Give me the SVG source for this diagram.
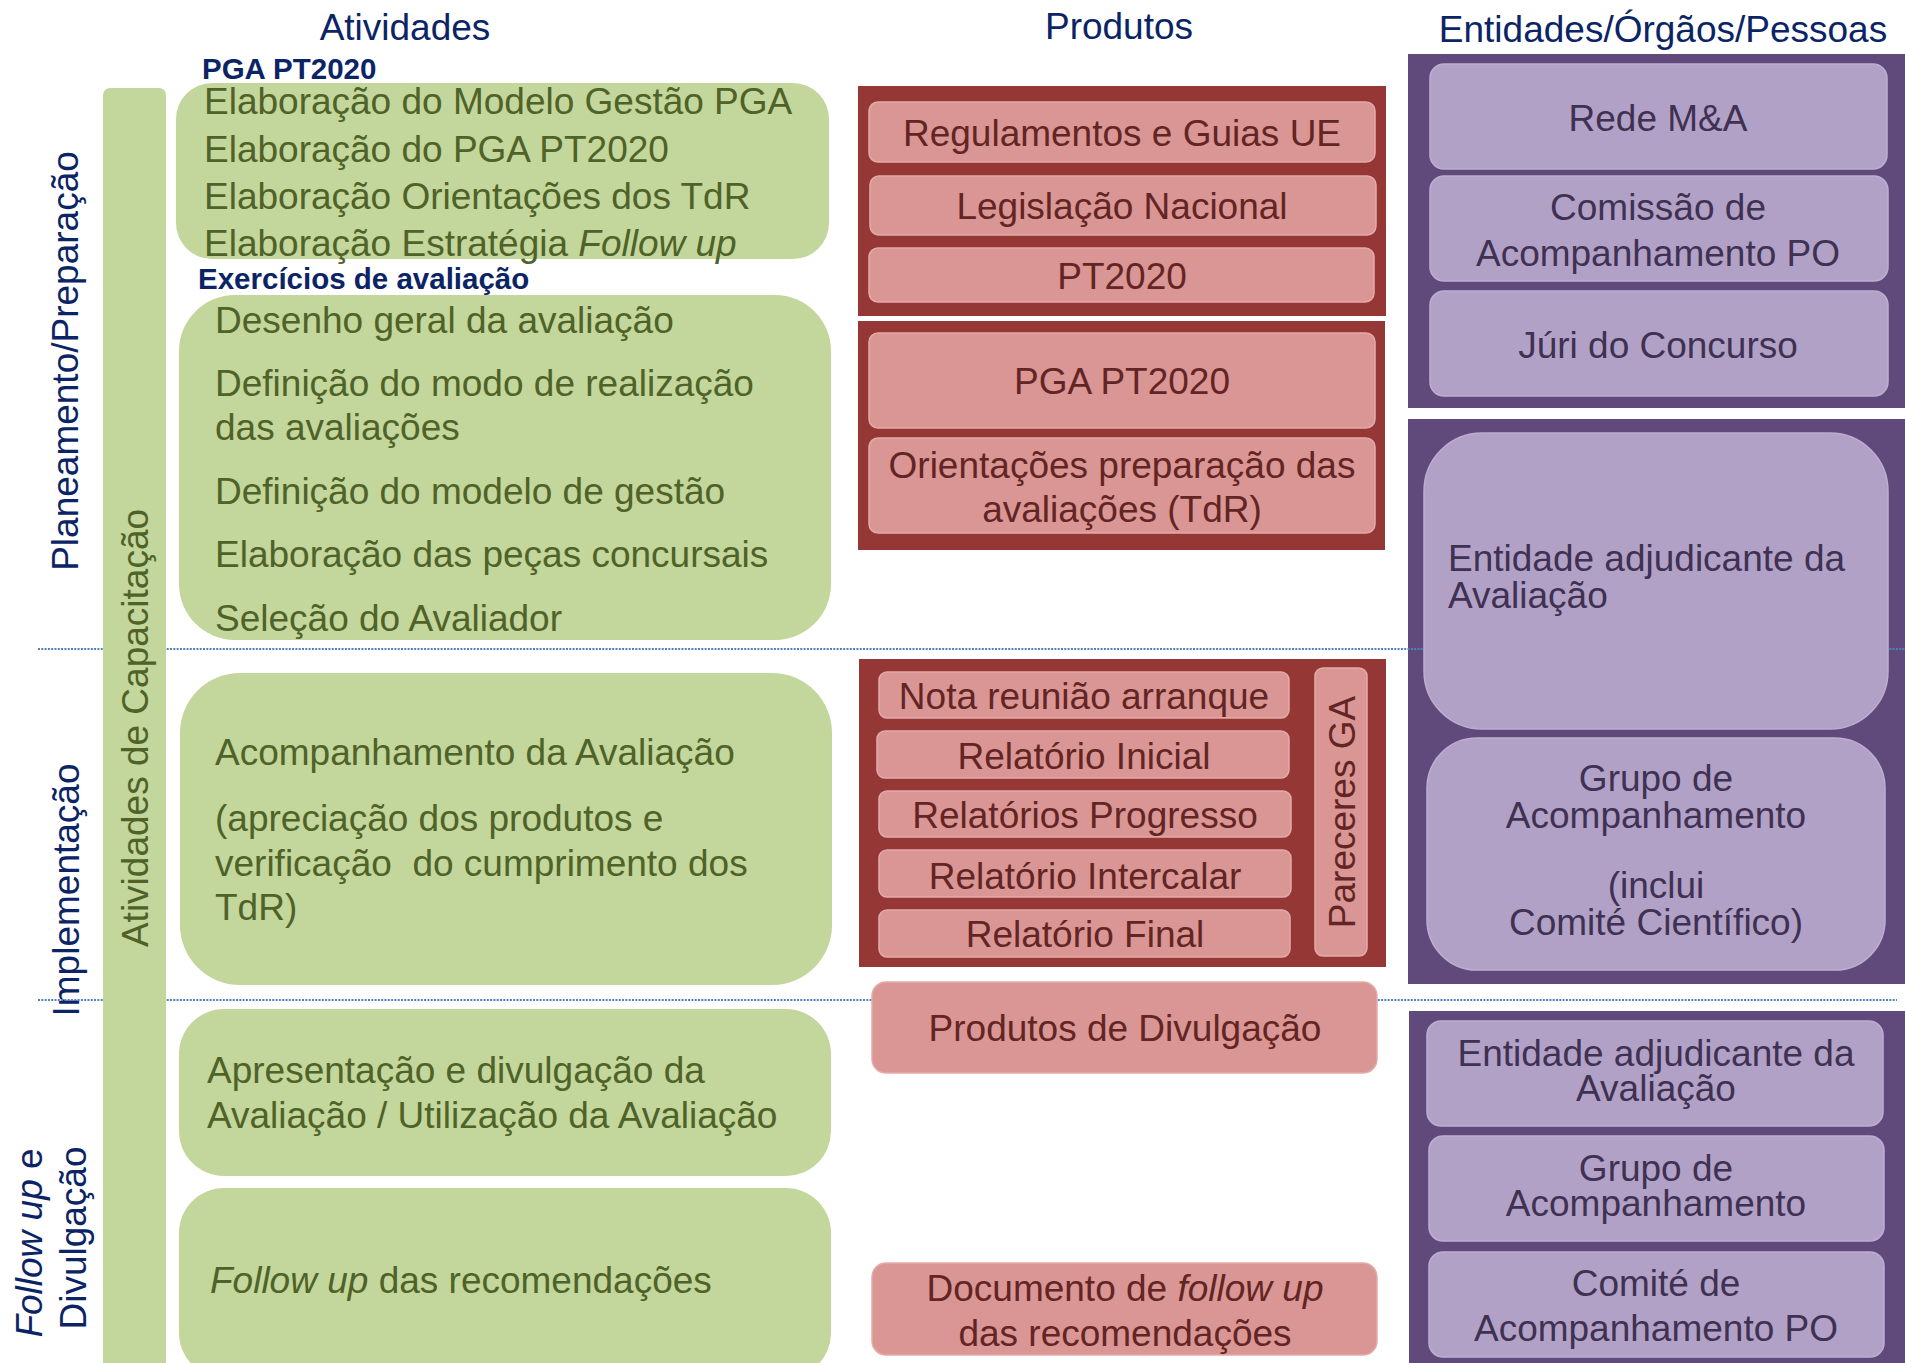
<svg xmlns="http://www.w3.org/2000/svg" width="1905" height="1363" viewBox="0 0 1905 1363">
<style>
text{font-family:"Liberation Sans",Arial,Helvetica,sans-serif;font-size:37px}
.title{fill:#0b2466}
.sub{fill:#0b2466;font-weight:bold;font-size:29.5px}
.phase{fill:#0b2466}
.gfill{fill:#c3d69b}
.gtxt{fill:#4f6228}
.rcont{fill:#953735}
.pink{fill:#d99694;stroke:#e3aaa8;stroke-width:1.5}
.rtxt{fill:#632523;text-anchor:middle}
.pcont{fill:#604a7b}
.lav{fill:#b2a1c7;stroke:#bcaed0;stroke-width:1.5}
.ptxt{fill:#3f3151;text-anchor:middle}
.dot{stroke:#4f81bd;stroke-width:2;stroke-dasharray:2 1.3;fill:none}
.it{font-style:italic}
</style>

<g id="headers">
<text class="title" x="405" y="40" text-anchor="middle">Atividades</text>
<text class="title" x="1119" y="39" text-anchor="middle">Produtos</text>
<text class="title" x="1663" y="42" text-anchor="middle">Entidades/Órgãos/Pessoas</text>
</g>

<g id="phase-labels">
<text class="phase" transform="translate(78,361) rotate(-90)" text-anchor="middle">Planeamento/Preparação</text>
<text class="phase" transform="translate(79,890) rotate(-90)" text-anchor="middle">Implementação</text>
<text class="phase" transform="translate(42,1243) rotate(-90)" text-anchor="middle"><tspan class="it">Follow up</tspan> e</text>
<text class="phase" transform="translate(86,1238) rotate(-90)" text-anchor="middle">Divulgação</text>
</g>

<g id="entities-group-1-bg"><rect class="pcont" x="1408" y="54" width="497" height="354"/></g>
<g id="entities-group-2-bg"><rect class="pcont" x="1408" y="419" width="497" height="565"/></g>
<g id="entities-group-3-bg"><rect class="pcont" x="1409" y="1011" width="496" height="352"/></g>

<g id="connectors">
<line class="dot" x1="38" y1="649" x2="1905" y2="649"/>
<line class="dot" x1="38" y1="1000" x2="1897" y2="1000"/>
</g>

<g id="capacitacao">
<rect class="gfill" x="103" y="88" width="63" height="1290" rx="7"/>
<text class="gtxt" transform="translate(148,728) rotate(-90)" text-anchor="middle">Atividades de Capacitação</text>
</g>

<g id="sub-pga"><text class="sub" x="202" y="79">PGA PT2020</text></g>
<g id="sub-exercicios"><text class="sub" x="198" y="289">Exercícios de avaliação</text></g>

<g id="act-pga">
<rect class="gfill" x="176" y="83" width="653" height="176" rx="36"/>
<text class="gtxt" x="204" y="114">Elaboração do Modelo Gestão PGA</text>
<text class="gtxt" x="204" y="162">Elaboração do PGA PT2020</text>
<text class="gtxt" x="204" y="209">Elaboração Orientações dos TdR</text>
<text class="gtxt" x="204" y="256">Elaboração Estratégia <tspan class="it">Follow up</tspan></text>
</g>

<g id="act-exercicios">
<rect class="gfill" x="179" y="295" width="652" height="345" rx="56"/>
<text class="gtxt" x="215" y="333">Desenho geral da avaliação</text>
<text class="gtxt" x="215" y="396">Definição do modo de realização</text>
<text class="gtxt" x="215" y="440">das avaliações</text>
<text class="gtxt" x="215" y="504">Definição do modelo de gestão</text>
<text class="gtxt" x="215" y="567">Elaboração das peças concursais</text>
<text class="gtxt" x="215" y="631">Seleção do Avaliador</text>
</g>

<g id="act-acompanhamento">
<rect class="gfill" x="180" y="673" width="652" height="312" rx="60"/>
<text class="gtxt" x="215" y="765">Acompanhamento da Avaliação</text>
<text class="gtxt" x="215" y="831">(apreciação dos produtos e</text>
<text class="gtxt" x="215" y="876" xml:space="preserve">verificação  do cumprimento dos</text>
<text class="gtxt" x="215" y="920">TdR)</text>
</g>

<g id="act-divulgacao">
<rect class="gfill" x="179" y="1009" width="652" height="167" rx="45"/>
<text class="gtxt" x="207" y="1083">Apresentação e divulgação da</text>
<text class="gtxt" x="207" y="1128">Avaliação / Utilização da Avaliação</text>
</g>

<g id="act-followup">
<rect class="gfill" x="179" y="1188" width="652" height="190" rx="45"/>
<text class="gtxt" x="210" y="1293"><tspan class="it">Follow up</tspan> das recomendações</text>
</g>

<g id="prod-group-1">
<rect class="rcont" x="858" y="86" width="528" height="230"/>
<g id="prod-regulamentos"><rect class="pink" x="869" y="102" width="506" height="60" rx="9"/><text class="rtxt" x="1122" y="146">Regulamentos e Guias UE</text></g>
<g id="prod-legislacao"><rect class="pink" x="870" y="176" width="506" height="59" rx="9"/><text class="rtxt" x="1122" y="219">Legislação Nacional</text></g>
<g id="prod-pt2020"><rect class="pink" x="869" y="248" width="505" height="54" rx="9"/><text class="rtxt" x="1122" y="289">PT2020</text></g>
</g>

<g id="prod-group-2">
<rect class="rcont" x="858" y="321" width="527" height="229"/>
<g id="prod-pga"><rect class="pink" x="869" y="333" width="506" height="95" rx="9"/><text class="rtxt" x="1122" y="394">PGA PT2020</text></g>
<g id="prod-orientacoes"><rect class="pink" x="869" y="438" width="506" height="95" rx="9"/><text class="rtxt" x="1122" y="478">Orientações preparação das</text><text class="rtxt" x="1122" y="522">avaliações (TdR)</text></g>
</g>

<g id="prod-group-3">
<rect class="rcont" x="859" y="659" width="527" height="308"/>
<g id="prod-nota"><rect class="pink" x="879" y="672" width="410" height="46" rx="8"/><text class="rtxt" x="1084" y="709">Nota reunião arranque</text></g>
<g id="prod-inicial"><rect class="pink" x="877" y="731" width="412" height="47" rx="8"/><text class="rtxt" x="1084" y="769">Relatório Inicial</text></g>
<g id="prod-progresso"><rect class="pink" x="879" y="791" width="412" height="46" rx="8"/><text class="rtxt" x="1085" y="828">Relatórios Progresso</text></g>
<g id="prod-intercalar"><rect class="pink" x="879" y="850" width="412" height="47" rx="8"/><text class="rtxt" x="1085" y="889">Relatório Intercalar</text></g>
<g id="prod-final"><rect class="pink" x="879" y="910" width="411" height="47" rx="8"/><text class="rtxt" x="1085" y="947">Relatório Final</text></g>
<g id="prod-pareceres"><rect class="pink" x="1315" y="668" width="52" height="288" rx="8"/><text class="rtxt" transform="translate(1355,812) rotate(-90)">Pareceres GA</text></g>
</g>

<g id="prod-divulgacao"><rect class="pink" x="872" y="982" width="505" height="91" rx="14"/><text class="rtxt" x="1125" y="1041">Produtos de Divulgação</text></g>
<g id="prod-followup"><rect class="pink" x="872" y="1263" width="505" height="92" rx="14"/><text class="rtxt" x="1125" y="1301">Documento de <tspan class="it">follow up</tspan></text><text class="rtxt" x="1125" y="1346">das recomendações</text></g>

<g id="ent-rede"><rect class="lav" x="1430" y="64" width="457" height="105" rx="14"/><text class="ptxt" x="1658" y="131">Rede M&amp;A</text></g>
<g id="ent-comissao"><rect class="lav" x="1430" y="176" width="458" height="105" rx="14"/><text class="ptxt" x="1658" y="220">Comissão de</text><text class="ptxt" x="1658" y="266">Acompanhamento PO</text></g>
<g id="ent-juri"><rect class="lav" x="1430" y="291" width="458" height="105" rx="14"/><text class="ptxt" x="1658" y="358">Júri do Concurso</text></g>

<g id="ent-entidade-1"><rect class="lav" x="1424" y="433" width="464" height="296" rx="58"/><text class="ptxt" x="1448" y="571" style="text-anchor:start">Entidade adjudicante da</text><text class="ptxt" x="1448" y="608" style="text-anchor:start">Avaliação</text></g>
<g id="ent-grupo-1"><rect class="lav" x="1427" y="738" width="458" height="232" rx="50"/><text class="ptxt" x="1656" y="791">Grupo de</text><text class="ptxt" x="1656" y="828">Acompanhamento</text><text class="ptxt" x="1656" y="898">(inclui</text><text class="ptxt" x="1656" y="935">Comité Científico)</text></g>

<g id="ent-entidade-2"><rect class="lav" x="1427" y="1021" width="456" height="105" rx="14"/><text class="ptxt" x="1656" y="1066">Entidade adjudicante da</text><text class="ptxt" x="1656" y="1101">Avaliação</text></g>
<g id="ent-grupo-2"><rect class="lav" x="1429" y="1136" width="455" height="105" rx="14"/><text class="ptxt" x="1656" y="1181">Grupo de</text><text class="ptxt" x="1656" y="1216">Acompanhamento</text></g>
<g id="ent-comite"><rect class="lav" x="1429" y="1252" width="455" height="105" rx="14"/><text class="ptxt" x="1656" y="1296">Comité de</text><text class="ptxt" x="1656" y="1341">Acompanhamento PO</text></g>
</svg>
